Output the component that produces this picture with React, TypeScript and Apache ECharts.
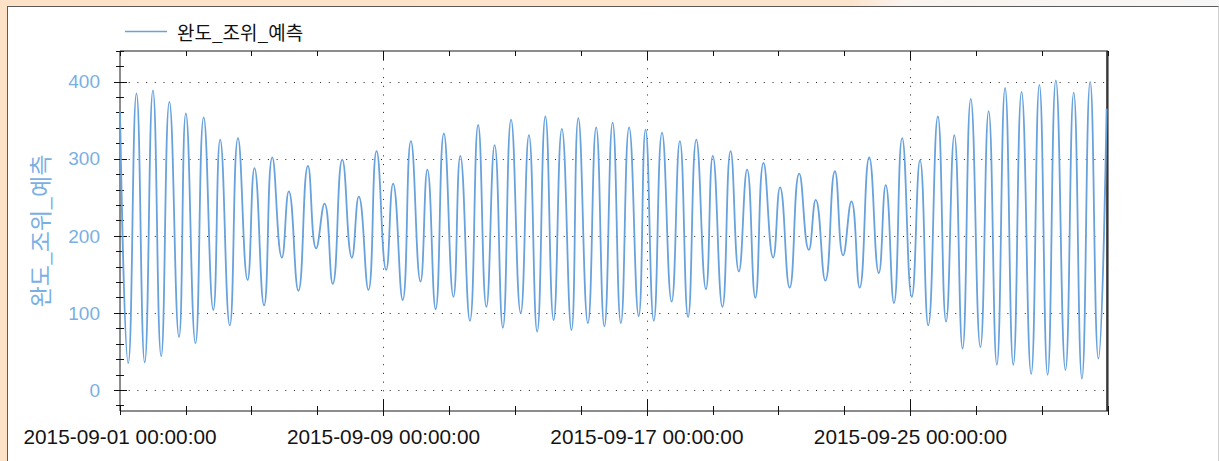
import React, { useEffect, useRef } from 'react';
import * as echarts from 'echarts';

const HOUR = 3600 * 1000;
const DAY = 24 * HOUR;
const START = new Date(2015, 8, 1, 0, 0, 0).getTime();
const END = START + 30 * DAY;

const seriesName = '완도_조위_예측';

// hours from 2015-09-01 00:00 of each high / low water
const extremaHours = [
  0, 6, 12, 18, 24, 30, 36, 43, 48, 55, 61, 68, 73, 80, 86, 93, 98, 105, 111, 118, 123,
  130, 137, 143, 149, 155, 162, 169, 174, 181, 187, 194, 199, 206, 212, 219, 224, 230, 236, 243, 248,
  255, 261, 267, 273, 279, 285, 292, 298, 304, 310, 316, 322, 329, 334, 341, 347, 353, 359, 365, 371,
  378, 383, 389, 395, 402, 408, 414, 420, 427, 432, 439, 445, 451, 457, 463, 469, 476, 481, 488, 495,
  502, 507, 514, 521, 527, 533, 539, 546, 553, 558, 564, 570, 577, 583, 589, 596, 602, 608, 614, 620,
  627, 633, 639, 645, 651, 657, 664, 670, 676, 682, 689, 695, 701, 707, 713, 719,
];
const levels = [
  362, 35, 385, 36, 389, 44, 374, 69, 359, 61, 354, 104, 325, 84, 327, 143, 288, 110, 302, 172, 258,
  129, 291, 184, 242, 138, 299, 172, 251, 130, 310, 156, 268, 117, 323, 141, 286, 105, 333, 121, 304,
  90, 344, 108, 318, 81, 351, 100, 331, 76, 355, 91, 339, 78, 353, 87, 341, 83, 347, 87, 341,
  96, 338, 90, 334, 115, 323, 95, 325, 131, 304, 108, 310, 154, 286, 120, 295, 172, 263, 133, 281,
  182, 247, 142, 284, 175, 245, 133, 302, 152, 266, 113, 327, 121, 298, 84, 355, 89, 331, 54, 378,
  56, 362, 33, 392, 33, 387, 21, 396, 20, 402, 26, 386, 15, 400, 41, 365,
];

const yMin = -27;
const yMax = 440;
const yLabelValues = [0, 100, 200, 300, 400];
const yMinorValues = [-20, 0, 20, 40, 60, 80, 100, 120, 140, 160, 180, 200, 220, 240, 260, 280, 300, 320, 340, 360, 380, 400, 420, 440];
const xLabelDays = [0, 8, 16, 24];
const xMajorGridDays = [8, 16, 24];
const xMinorDays = [0, 2, 4, 6, 8, 10, 12, 14, 16, 18, 20, 22, 24, 26, 28, 30];

const pad = (n: number) => (n < 10 ? '0' + n : '' + n);
const fmt = (v: number) => {
  const d = new Date(v);
  return `${d.getFullYear()}-${pad(d.getMonth() + 1)}-${pad(d.getDate())} ${pad(d.getHours())}:${pad(d.getMinutes())}:${pad(d.getSeconds())}`;
};

const LINE_COLOR = '#68a2dd';
const LABEL_BLUE = '#7aafe4';

export default function App() {
  const ref = useRef<HTMLDivElement>(null);

  useEffect(() => {
    if (!ref.current) return;
    const chart = echarts.init(ref.current, undefined, { renderer: 'svg' });
    const data = extremaHours.map((h, i) => [START + h * HOUR, levels[i]]);
    const dayVals = (arr: number[]) => arr.map((d) => START + d * DAY);
    const dotted = { color: '#222', width: 1, type: [1, 7.7] as any };

    const baseX = {
      type: 'value' as const,
      min: START,
      max: END,
      gridIndex: 0,
      scale: true,
      axisLine: { show: false, onZero: false },
      axisLabel: { show: false },
      axisTick: { show: false },
      splitLine: { show: false },
    };
    const baseY = {
      type: 'value' as const,
      min: yMin,
      max: yMax,
      gridIndex: 0,
      axisLine: { show: false, onZero: false },
      axisLabel: { show: false },
      axisTick: { show: false },
      splitLine: { show: false },
    };

    chart.setOption({
      animation: false,
      grid: {
        left: 120,
        right: 111,
        top: 51,
        bottom: 50,
        show: true,
        borderColor: '#1a1a1a',
        borderWidth: 1,
        backgroundColor: 'transparent',
        outerBoundsMode: 'none',
      },
      legend: {
        show: true,
        left: 120,
        top: 17,
        icon: 'rect',
        itemWidth: 42,
        itemHeight: 1.5,
        data: [{ name: seriesName }],
        textStyle: {
          fontSize: 19,
          color: '#111',
          fontFamily: 'Noto Sans CJK KR',
          padding: [0, 0, 0, 5],
        },
      },
      xAxis: [
        {
          ...baseX,
          position: 'bottom',
          axisLabel: {
            show: true,
            customValues: dayVals(xLabelDays),
            formatter: (v: number) => fmt(v),
            fontSize: 20.8,
            fontFamily: 'Liberation Sans, Arial, sans-serif',
            color: '#141414',
            margin: 15,
            hideOverlap: false,
          },
        },
        {
          ...baseX,
          position: 'bottom',
          offset: -11,
          axisTick: { show: true, customValues: dayVals(xMajorGridDays), length: 16, lineStyle: { color: '#111', width: 1 } },
          splitLine: { show: true, lineStyle: dotted },
        },
        {
          ...baseX,
          position: 'bottom',
          offset: -5,
          axisTick: { show: true, customValues: dayVals(xMinorDays), length: 9, lineStyle: { color: '#111', width: 1 } },
        },
        {
          ...baseX,
          position: 'top',
          axisTick: { show: true, inside: true, customValues: dayVals(xMinorDays), length: 5, lineStyle: { color: '#111', width: 1 } },
        },
        {
          ...baseX,
          position: 'top',
          axisTick: { show: true, inside: true, customValues: dayVals(xMajorGridDays), length: 9, lineStyle: { color: '#111', width: 1 } },
        },
      ],
      yAxis: [
        {
          ...baseY,
          position: 'left',
          name: seriesName,
          nameLocation: 'middle',
          nameRotate: 90,
          nameGap: 70,
          nameTextStyle: { color: LABEL_BLUE, fontSize: 23, fontFamily: 'Noto Sans CJK KR' },
          axisLabel: {
            show: true,
            customValues: yLabelValues,
            fontSize: 19,
            fontFamily: 'Liberation Sans, Arial, sans-serif',
            color: LABEL_BLUE,
            margin: 20,
          },
        },
        {
          ...baseY,
          position: 'left',
          offset: -7,
          axisTick: { show: true, customValues: yLabelValues, length: 13, lineStyle: { color: '#111', width: 1 } },
          splitLine: { show: true, lineStyle: dotted },
        },
        {
          ...baseY,
          position: 'left',
          offset: -4,
          axisTick: { show: true, customValues: yMinorValues, length: 8, lineStyle: { color: '#111', width: 1 } },
        },
      ],
      series: [
        {
          name: seriesName,
          type: 'line',
          xAxisIndex: 0,
          yAxisIndex: 0,
          data,
          symbol: 'none',
          smooth: 0.5,
          lineStyle: { color: LINE_COLOR, width: 1.8 },
          itemStyle: { color: LINE_COLOR },
          z: 3,
        },
      ],
    });
    return () => chart.dispose();
  }, []);

  return (
    <div
      style={{
        position: 'fixed',
        left: 0,
        top: 0,
        width: 1219,
        height: 461,
        background: 'linear-gradient(90deg, #fde2c8 0%, #fde5cd 70%, #faf3ee 74%, #f7f7f7 100%)',
        overflow: 'hidden',
      }}
    >
      <div
        style={{
          position: 'absolute',
          left: 7,
          top: 6,
          right: 0,
          bottom: 0,
          background: '#ffffff',
          borderLeft: '1px solid #5a5a5a',
          borderTop: '1px solid #5a5a5a',
          borderRight: '1px solid #d0d0d0',
        }}
      />
      <div
        style={{
          position: 'absolute',
          left: 1106,
          top: 51,
          width: 2,
          height: 360,
          background: '#555',
        }}
      />
      <div ref={ref} style={{ position: 'absolute', left: 0, top: 0, width: 1219, height: 461 }} />
    </div>
  );
}
